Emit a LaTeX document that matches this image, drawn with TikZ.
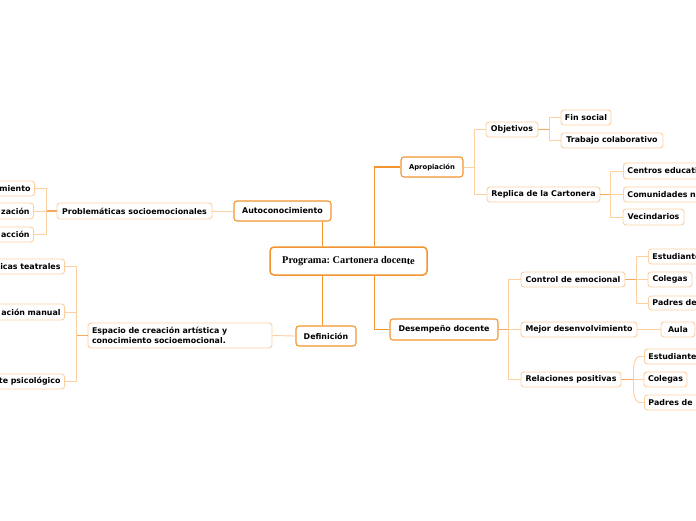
\documentclass[tikz,border=0pt]{standalone}
\usepackage{fontspec}
\setsansfont{DejaVu Sans}
\newfontfamily\tnr{Liberation Serif}
\definecolor{mainor}{HTML}{F39431}
\definecolor{midor}{HTML}{F7A85C}
\definecolor{lightor}{HTML}{FDD0A2}
\tikzset{
  base/.style={rounded corners=3, fill=white, inner sep=0, align=center,
    font=\sffamily\bfseries\fontsize{7.9}{9.7}\selectfont, text=black},
  mainbox/.style={base, draw=mainor, line width=1.1},
  subbox/.style={base, draw=lightor, line width=0.9},
  cutr/.style={subbox, anchor=west, text width=84, align=left, inner xsep=4},
  cutl/.style={subbox, anchor=east, text width=84, align=right, inner xsep=4},
  mainline/.style={draw=mainor, line width=1.2},
  stub/.style={draw=midor, line width=1.1},
  lightline/.style={draw=lightor, line width=0.9},
}
\begin{document}
\frenchspacing
\begin{tikzpicture}[x=1pt,y=-1pt]
\useasboundingbox (0,0) rectangle (696,520);
\clip (0,0) rectangle (696,520);
\fill[white] (0,0) rectangle (696,520);

% central and main branches
\node[base, draw=mainor, line width=1.5, rounded corners=4, minimum width=157, minimum height=28,
  font=\tnr\bfseries\fontsize{10.3}{12}\selectfont] (central) at (348.5,261)
  {Programa: Cartonera docen\raisebox{-1.3pt}{te}};
\node[mainbox, minimum width=97, minimum height=20] (auto) at (282.5,211) {Autoconocimiento};
\node[mainbox, minimum width=60, minimum height=20] (def) at (326,336) {Definición};
\node[mainbox, minimum width=62, minimum height=20, font=\sffamily\bfseries\fontsize{6.8}{8}\selectfont] (aprop) at (432,167) {Apropiación};
\node[mainbox, minimum width=108, minimum height=21] (desemp) at (444,329.5) {Desempeño docente};

\draw[mainline] ([xshift=-26]central.north) -- ([xshift=-26]central.north |- auto.south);
\draw[mainline] ([xshift=-26]central.south) -- ([xshift=-26]central.south |- def.north);
\draw[mainline] ([xshift=26]central.north) |- (aprop.west);
\draw[mainline] ([xshift=26]central.south) |- (desemp.west);

% left: Problemáticas
\node[subbox, minimum width=155, minimum height=16] (prob) at (134.5,211) {Problemáticas socioemocionales};
\node[cutl, minimum height=15] (l1) at (35,188.5) {miento};
\node[cutl, minimum height=16] (l2) at (34,211) {zación};
\node[cutl, minimum height=15] (l3) at (34,234.5) {acción};
\draw[lightline] (prob.east) -- (auto.west);
\draw[stub] (prob.west) -- ++(-10,0) coordinate (bp);
\draw[lightline] (l1.east) -| (bp) |- (l3.east);
\draw[lightline] (l2.east) -- (bp);

% left: Espacio
\node[subbox, minimum width=184, minimum height=25, align=left, text width=176, inner xsep=4] (esp) at (180,335.5)
  {Espacio de creación artística y\\conocimiento socioemocional.};
\node[cutl, minimum height=15] (e1) at (65,266.5) {icas teatrales};
\node[cutl, minimum height=16] (e2) at (65,312) {ación manual};
\node[cutl, minimum height=15] (e3) at (65,381.5) {te psicológico};
\draw[lightline] (esp.east) -- (def.west);
\draw[stub] (esp.west) -- ++(-11,0) coordinate (be);
\draw[lightline] (e1.east) -| (be) |- (e3.east);
\draw[lightline] (e2.east) -| (be);

% right: Apropiación
\node[subbox, minimum width=52, minimum height=15] (obj) at (512,129.5) {Objetivos};
\node[subbox, minimum width=113, minimum height=15] (rep) at (543.5,194.5) {Replica de la Cartonera};
\node[subbox, minimum width=50, minimum height=15] (fin) at (586,117.5) {Fin social};
\node[subbox, minimum width=102, minimum height=15] (trab) at (612,140.5) {Trabajo colaborativo};
\node[cutr, minimum height=16] (cen) at (623,171) {Centros educati};
\node[cutr, minimum height=15] (com) at (623,194.5) {Comunidades n};
\node[subbox, minimum width=61, minimum height=16] (vec) at (653.5,217) {Vecindarios};

\draw[lightline] (aprop.east) -- ++(11,0) coordinate (ba);
\draw[lightline] (obj.west) -| (ba) |- (rep.west);
\draw[stub] (obj.east) -- ++(11,0) coordinate (bo);
\draw[lightline] (fin.west) -| (bo) |- (trab.west);
\draw[stub] (rep.east) -- ++(10,0) coordinate (br);
\draw[lightline] (cen.west) -| (br) |- (vec.west);
\draw[lightline] (com.west) -- (br);

% right: Desempeño
\node[subbox, minimum width=104, minimum height=15] (ctrl) at (573,279.5) {Control de emocional};
\node[subbox, minimum width=116, minimum height=15] (mej) at (579,329.5) {Mejor desenvolvimiento};
\node[subbox, minimum width=100, minimum height=15] (rel) at (571,379.5) {Relaciones positivas};
\draw[stub] (desemp.east) -- ++(10,0) coordinate (bd);
\draw[lightline] (ctrl.west) -| (bd) |- (rel.west);
\draw[lightline] (mej.west) -- (bd);

\node[cutr, minimum height=15] (est1) at (648,256.5) {Estudiante};
\node[subbox, minimum width=44, minimum height=15] (col1) at (670,279.5) {Colegas};
\node[cutr, minimum height=14] (pad1) at (648,303) {Padres de};
\draw[stub] (ctrl.east) -- ++(11,0) coordinate (bc);
\draw[lightline] (est1.west) -| (bc) |- (pad1.west);
\draw[lightline] (col1.west) -- (bc);

\node[subbox, minimum width=34, minimum height=15] (aula) at (678,329.5) {Aula};
\draw[lightline] (mej.east) -- (aula.west);

\node[cutr, minimum height=15] (est2) at (644,356.5) {Estudiante};
\node[subbox, minimum width=43, minimum height=15] (col2) at (665.5,379.5) {Colegas};
\node[cutr, minimum height=15] (pad2) at (644,402.5) {Padres de};
\draw[stub] (rel.east) -- ++(12,0) coordinate (bl);
\draw[lightline] (est2.west) -- ++(-4,0) .. controls ++(-7,0) and ++(0,-10) .. (bl);
\draw[lightline] (pad2.west) -- ++(-4,0) .. controls ++(-7,0) and ++(0,10) .. (bl);
\draw[lightline] (col2.west) -- (bl);
\end{tikzpicture}
\end{document}
